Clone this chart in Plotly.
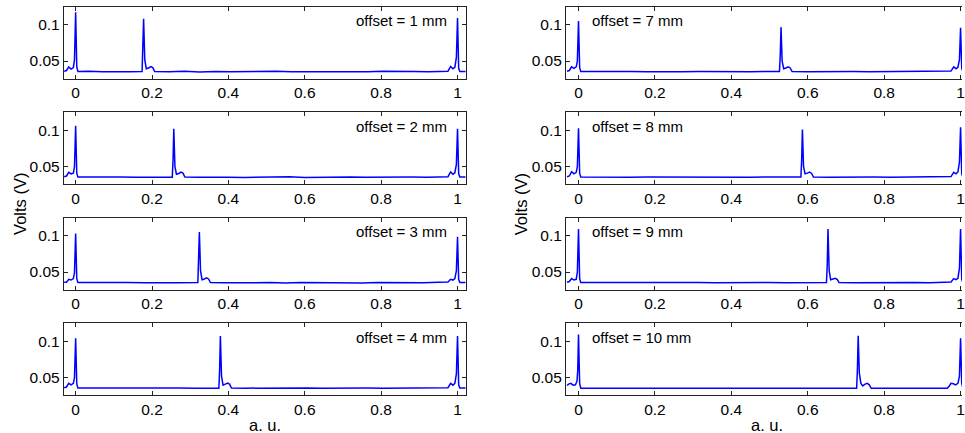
import plotly.graph_objects as go

# ---------------- data ----------------
x_1mm = [-0.030,-0.024,-0.018,-0.012,-0.006,-0.003,0.000,0.003,0.006,0.035,0.070,0.105,0.140,0.174,0.176,0.178,0.181,0.185,0.191,0.197,0.202,0.207,
         0.245,0.285,0.325,0.365,0.405,0.445,0.485,0.525,0.565,0.605,0.645,0.685,0.725,0.765,0.805,0.845,0.885,0.925,0.960,
         0.975,0.982,0.988,0.993,0.997,1.000,1.003,1.006,1.022]
v_1mm = [0.036,0.037,0.042,0.039,0.041,0.052,0.117,0.042,0.0355,0.0360,0.0352,0.0358,0.0354,0.0356,0.060,0.108,0.052,0.0395,0.0405,0.0425,0.0410,0.0355,
         0.0352,0.0358,0.0350,0.0357,0.0353,0.0356,0.0351,0.0358,0.0354,0.0352,0.0357,0.0350,0.0355,0.0353,0.0358,0.0352,0.0356,0.0354,0.0357,
         0.0360,0.0425,0.0395,0.0415,0.055,0.109,0.040,0.0355,0.0356]

x_2mm = [-0.030,-0.024,-0.018,-0.012,-0.006,-0.003,0.000,0.003,0.006, 0.040,0.080,0.120,0.160,0.200,
         0.253,0.255,0.257,0.260,0.264,0.270,0.276,0.281,0.286,
         0.320,0.360,0.400,0.440,0.480,0.520,0.560,0.600,0.640,0.680,0.720,0.760,0.800,0.840,0.880,0.920, 0.955,
         0.975,0.982,0.988,0.993,0.997,1.000,1.003,1.006,1.022]
v_2mm = [0.036,0.037,0.042,0.040,0.041,0.050,0.106,0.041,0.0355, 0.0358,0.0352,0.0357,0.0353,0.0356,
         0.0354,0.058,0.102,0.050,0.0395,0.0405,0.0425,0.041,0.0355,
         0.0352,0.0357,0.0354,0.0350,0.0356,0.0353,0.0358,0.0351,0.0355,0.0353,0.0357,0.0352,0.0356,0.0350,0.0355,0.0353, 0.0357,
         0.0360,0.0425,0.0395,0.0415,0.053,0.102,0.040,0.0355,0.0356]

x_3mm = [-0.030,-0.024,-0.018,-0.012,-0.006,-0.003,0.000,0.003,0.006, 0.045,0.090,0.135,0.180,0.225,0.270,
         0.320,0.322,0.324,0.327,0.331,0.337,0.343,0.348,0.353,
         0.390,0.430,0.470,0.510,0.550,0.590,0.630,0.670,0.710,0.750,0.790,0.830,0.870,0.910,0.950,
         0.975,0.982,0.988,0.993,0.997,1.000,1.003,1.006,1.022]
v_3mm = [0.036,0.036,0.040,0.039,0.041,0.049,0.103,0.041,0.0355, 0.0357,0.0352,0.0356,0.0353,0.0358,0.0354,
         0.0355,0.060,0.105,0.052,0.0395,0.0405,0.0420,0.0405,0.0355,
         0.0352,0.0357,0.0353,0.0356,0.0351,0.0357,0.0354,0.0352,0.0356,0.0350,0.0355,0.0353,0.0357,0.0352,0.0358,
         0.0362,0.0400,0.0390,0.0410,0.052,0.0985,0.040,0.0355,0.0356]

x_4mm = [-0.030,-0.024,-0.018,-0.012,-0.006,-0.003,0.000,0.003,0.006, 0.045,0.090,0.135,0.180,0.225,0.270,0.315,0.350,
         0.375,0.377,0.379,0.382,0.386,0.392,0.398,0.403,0.408,
         0.445,0.485,0.525,0.565,0.605,0.645,0.685,0.725,0.765,0.805,0.845,0.885,0.925,0.955,
         0.975,0.982,0.988,0.993,0.997,1.000,1.003,1.006,1.022]
v_4mm = [0.036,0.037,0.042,0.040,0.042,0.050,0.104,0.041,0.0355, 0.0356,0.0354,0.0357,0.0353,0.0355,0.0356,0.0352,0.0355,
         0.0354,0.060,0.107,0.052,0.0395,0.0410,0.0425,0.0410,0.0355,
         0.0354,0.0356,0.0353,0.0355,0.0357,0.0352,0.0356,0.0354,0.0355,0.0353,0.0356,0.0354,0.0355,0.0356,
         0.0360,0.0420,0.0395,0.0420,0.055,0.107,0.040,0.0355,0.0355]

x_7mm = [-0.030,-0.024,-0.018,-0.012,-0.006,-0.003,0.000,0.003,0.006, 0.045,0.090,0.135,0.180,0.225,0.270,0.315,0.360,0.405,0.450,0.490,
         0.526,0.528,0.530,0.533,0.537,0.543,0.549,0.554,0.559,
         0.600,0.640,0.680,0.720,0.760,0.800,0.840,0.880,0.920,0.955,
         0.975,0.982,0.988,0.993,0.997,1.000,1.003,1.006,1.022]
v_7mm = [0.036,0.037,0.042,0.040,0.042,0.050,0.105,0.041,0.0355, 0.0357,0.0353,0.0356,0.0352,0.0357,0.0354,0.0356,0.0353,0.0357,0.0354,0.0356,
         0.0355,0.058,0.0966,0.050,0.0395,0.0405,0.0420,0.0405,0.0355,
         0.0353,0.0356,0.0352,0.0357,0.0354,0.0355,0.0357,0.0353,0.0356,0.0358,
         0.0362,0.0420,0.0395,0.0415,0.052,0.0957,0.040,0.0355,0.0355]

x_8mm = [-0.030,-0.024,-0.018,-0.012,-0.006,-0.003,0.000,0.003,0.006, 0.045,0.090,0.135,0.180,0.225,0.270,0.315,0.360,0.405,0.450,0.495,0.540,
         0.582,0.584,0.586,0.589,0.593,0.599,0.605,0.610,0.615,
         0.655,0.695,0.735,0.775,0.815,0.855,0.895,0.935,0.960,
         0.975,0.982,0.988,0.993,0.997,1.000,1.003,1.006,1.022]
v_8mm = [0.036,0.037,0.043,0.040,0.042,0.050,0.1026,0.041,0.0355, 0.0352,0.0355,0.0353,0.0356,0.0354,0.0352,0.0356,0.0353,0.0355,0.0352,0.0356,0.0354,
         0.0355,0.058,0.101,0.050,0.0400,0.0410,0.0425,0.0405,0.0355,
         0.0352,0.0356,0.0350,0.0355,0.0352,0.0356,0.0353,0.0355,0.0357,
         0.0362,0.0420,0.0400,0.0425,0.056,0.104,0.040,0.0355,0.0355]

x_9mm = [-0.030,-0.024,-0.018,-0.012,-0.006,-0.003,0.000,0.003,0.006, 0.045,0.090,0.135,0.180,0.225,0.270,0.315,0.360,0.405,0.450,0.495,0.540,0.585,0.620,
         0.649,0.651,0.653,0.656,0.660,0.666,0.672,0.677,0.682,
         0.720,0.760,0.800,0.840,0.880,0.920,0.955,
         0.975,0.982,0.988,0.993,0.997,1.000,1.003,1.006,1.022]
v_9mm = [0.036,0.037,0.041,0.039,0.040,0.050,0.109,0.041,0.0355, 0.0356,0.0353,0.0357,0.0354,0.0355,0.0353,0.0357,0.0352,0.0356,0.0354,0.0355,0.0353,0.0356,0.0354,
         0.0355,0.060,0.109,0.052,0.0395,0.0405,0.0415,0.0400,0.0355,
         0.0353,0.0356,0.0352,0.0355,0.0357,0.0353,0.0356,
         0.0362,0.0410,0.0395,0.0415,0.055,0.109,0.040,0.0355,0.0355]

x_10mm = [-0.030,-0.026,-0.020,-0.014,-0.008,-0.004,-0.002,0.000,0.003,0.006,
          0.050,0.100,0.150,0.200,0.250,0.300,0.350,0.400,0.450,0.500,0.550,0.600,0.650,0.700,
          0.728,0.730,0.732,0.735,0.739,0.744,0.750,0.756,0.761,0.766,
          0.800,0.850,0.900,0.950,0.965,
          0.970,0.975,0.981,0.987,0.993,0.997,1.000,1.003,1.006,1.022]
v_10mm = [0.039,0.041,0.042,0.0395,0.040,0.045,0.060,0.109,0.042,0.0352,
          0.0352,0.0353,0.0352,0.0352,0.0353,0.0352,0.0352,0.0353,0.0352,0.0352,0.0353,0.0352,0.0352,0.0352,
          0.0352,0.062,0.1075,0.056,0.0420,0.0385,0.0410,0.0420,0.0400,0.0352,
          0.0352,0.0353,0.0352,0.0352,0.0352,
          0.0380,0.0420,0.0415,0.0400,0.0420,0.052,0.104,0.042,0.0352,0.0352]

labels = ["offset = 1 mm", "offset = 2 mm", "offset = 3 mm", "offset = 4 mm",
          "offset = 7 mm", "offset = 8 mm", "offset = 9 mm", "offset = 10 mm"]
series_x = [x_1mm, x_2mm, x_3mm, x_4mm, x_7mm, x_8mm, x_9mm, x_10mm]
series_v = [v_1mm, v_2mm, v_3mm, v_4mm, v_7mm, v_8mm, v_9mm, v_10mm]

x_ticks = [0, 0.2, 0.4, 0.6, 0.8, 1]
x_ticktext = ["0", "0.2", "0.4", "0.6", "0.8", "1"]
y_ticks = [0.05, 0.1]
y_ticktext = ["0.05", "0.1"]

# ---------------- layout geometry ----------------
W, H = 965, 433
FONT = "Liberation Sans, Arial, sans-serif"
col_px = [(64, 467), (567.7, 965)]
col_range = [[-0.031, 1.021], [-0.0329, 1.0037]]
row_top = [6.5, 112, 217.5, 323]
row_h = 72
y_range = [0.026, 0.125]

fig = go.Figure()
layout = dict(
    width=W, height=H, margin=dict(l=0, r=0, t=0, b=0),
    paper_bgcolor="white", plot_bgcolor="white", showlegend=False,
    font=dict(family=FONT, size=15.5, color="black"),
)
annotations = []
for i in range(8):
    col = 0 if i < 4 else 1
    row = i % 4
    k = i + 1
    xs = "" if k == 1 else str(k)
    fig.add_trace(go.Scatter(x=series_x[i], y=series_v[i], mode="lines",
                             line=dict(color="#0000ff", width=1.5),
                             xaxis="x" + xs, yaxis="y" + xs, hoverinfo="skip"))
    x0, x1 = col_px[col]
    t = row_top[row]
    layout["xaxis" + xs] = dict(
        domain=[x0 / W, x1 / W], range=col_range[col], anchor="y" + xs,
        tickvals=x_ticks, ticktext=x_ticktext, ticks="inside", ticklen=4,
        tickcolor="#222", showline=True, linecolor="#222", linewidth=1,
        mirror="ticks", showgrid=False, zeroline=False,
        ticklabeloverflow="allow",
        tickfont=dict(family=FONT, size=15.5, color="black"),
    )
    layout["yaxis" + xs] = dict(
        domain=[1 - (t + row_h) / H, 1 - t / H], range=y_range, anchor="x" + xs,
        tickvals=y_ticks, ticktext=y_ticktext, ticks="inside", ticklen=4,
        tickcolor="#222", showline=True, linecolor="#222", linewidth=1,
        mirror="ticks" if col == 0 else False, showgrid=False, zeroline=False,
        tickfont=dict(family=FONT, size=15.5, color="black"),
    )
    annotations.append(dict(
        text=labels[i], xref="x" + xs, yref="y" + xs,
        x=0.977 if col == 0 else 0.03, y=0.1055,
        xanchor="right" if col == 0 else "left", yanchor="middle",
        showarrow=False, font=dict(family=FONT, size=15, color="black"),
    ))

for col in range(2):
    x0, x1 = col_px[col]
    cx = (x0 + x1) / 2 if col == 0 else (567.7 + 971.7) / 2
    annotations.append(dict(text="a. u.", xref="paper", yref="paper",
                            x=cx / W, y=1 - 425 / H, xanchor="center", yanchor="middle",
                            showarrow=False, font=dict(family=FONT, size=16.5, color="black")))
    annotations.append(dict(text="Volts (V)", xref="paper", yref="paper",
                            x=(20 if col == 0 else 523) / W, y=1 - 204 / H,
                            xanchor="center", yanchor="middle", textangle=-90,
                            showarrow=False, font=dict(family=FONT, size=16.5, color="black")))

layout["annotations"] = annotations
fig.update_layout(**layout)
fig.write_html("out.html")
